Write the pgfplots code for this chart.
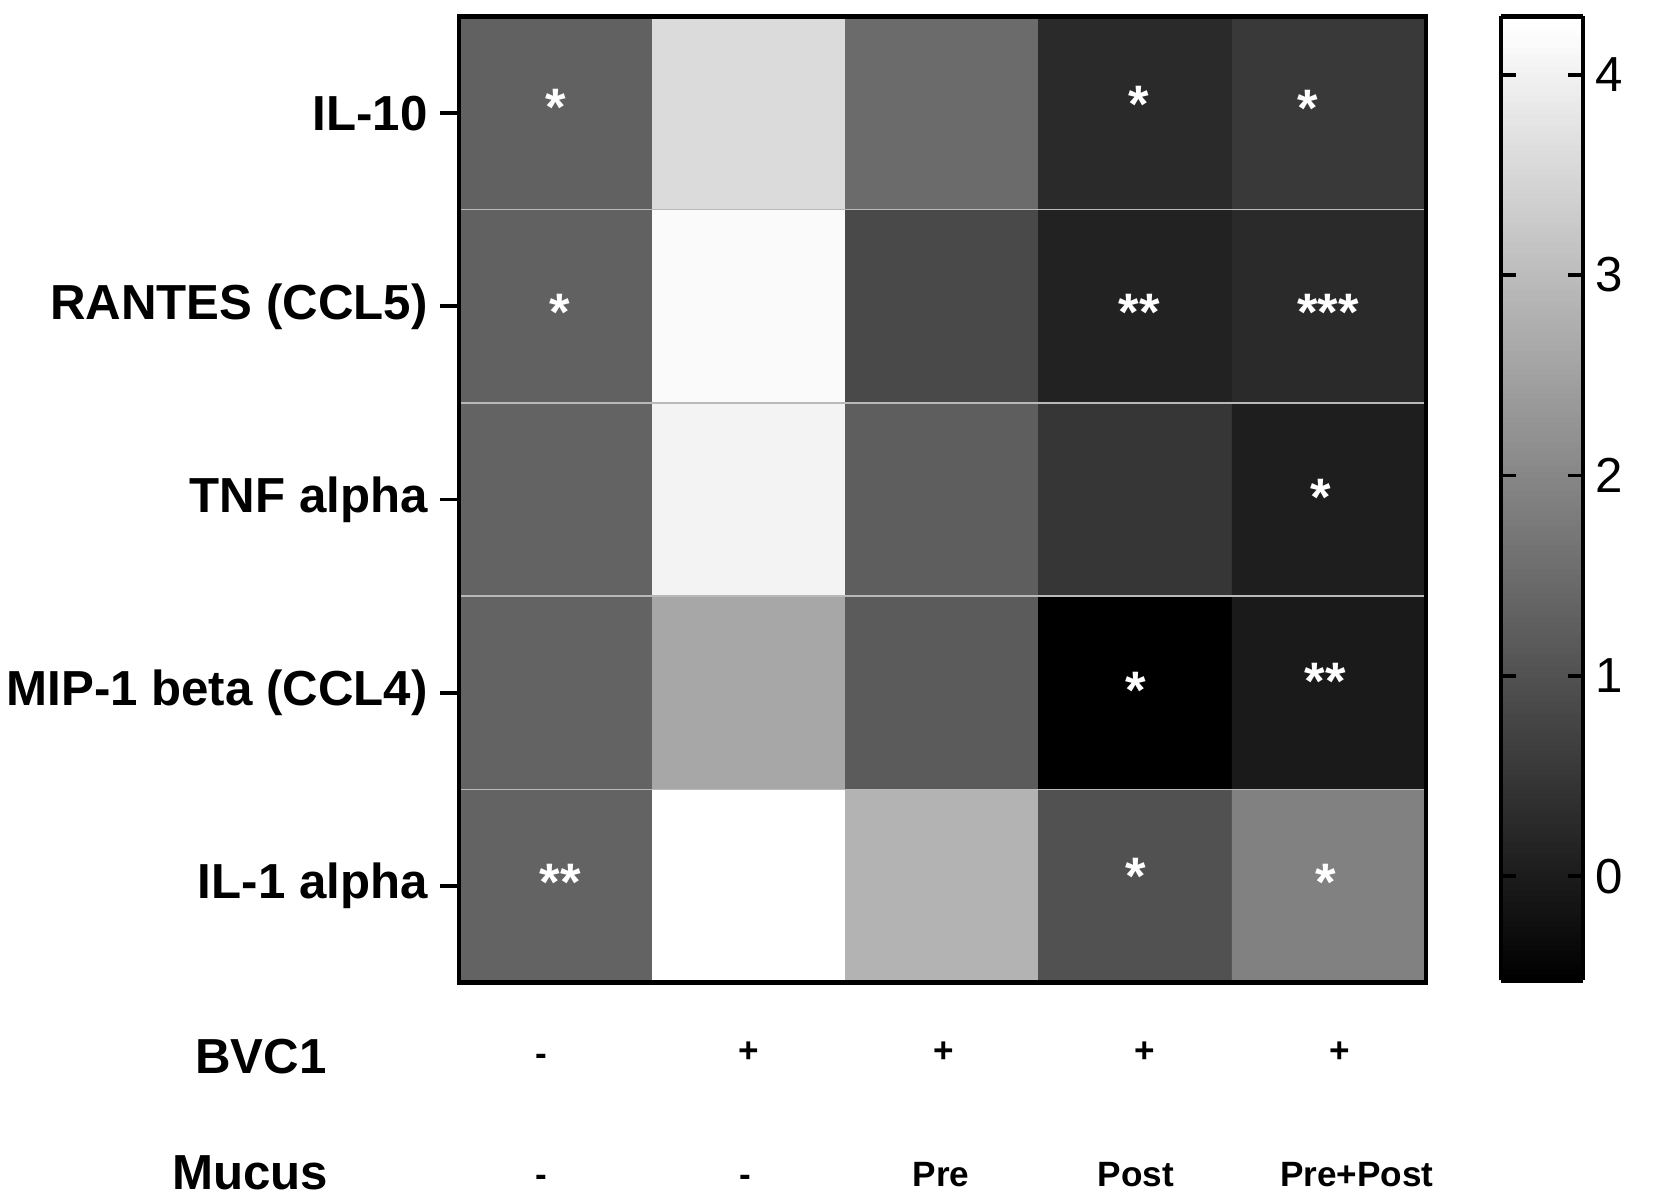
\documentclass[border=0pt]{standalone}
\usepackage{pgfplots}
\pgfplotsset{compat=1.18}
\usepackage{fontspec}
\setmainfont{Liberation Sans}
\begin{document}
\begin{tikzpicture}[
 sig/.style={anchor=base, yshift=-7.1pt, text=white, font=\fontsize{15}{17}\selectfont\bfseries, inner sep=0pt},
 ent/.style={anchor=base, font=\fontsize{10}{12}\selectfont\bfseries, inner sep=0pt},
 lab/.style={font=\fontsize{14}{16}\selectfont\bfseries, inner sep=0pt},
]
\useasboundingbox (-4.59cm,-2.165cm) rectangle (11.94cm,9.825cm);
\begin{axis}[
 at={(0,0)}, anchor=south west,
 width=9.67cm, height=9.66cm, scale only axis,
 xmin=-0.5, xmax=4.5, ymin=-0.5, ymax=4.5,
 xtick=\empty,
 ytick={0,1,2,3,4},
 yticklabels={IL-1 alpha, MIP-1 beta (CCL4), TNF alpha, RANTES (CCL5), IL-10},
 yticklabel style={font=\fontsize{14}{16}\selectfont\bfseries},
 ytick pos=left, tick align=outside,
 major tick length=0.19cm,
 tick style={line width=1.1pt, black},
 axis line style={line width=1.2pt},
 minor xtick={0.5,1.5,2.5,3.5}, minor ytick={0.5,1.5,2.5,3.5},
 minor tick length=0pt,
 minor grid style={gray!55, line width=0.35pt},
 xminorgrids, yminorgrids,
 axis on top,
 clip=false,
 colormap={bw}{rgb255(0cm)=(0,0,0); rgb255(1cm)=(255,255,255)},
 point meta min=-0.52, point meta max=4.29,
 colorbar sampled,
 colorbar shift/.style={xshift=0.75cm},
 colorbar style={
   at={(parent axis.north east)}, anchor=north west,
   width=0.82cm, height=9.64cm,
   samples=160,
   ytick={0,1,2,3,4},
   minor ytick={}, yminorgrids=false, xminorgrids=false,
   yticklabel pos=right, ytick pos=both,
   tick align=inside,
   major tick length=0.15cm,
   tick style={line width=1.1pt, black},
   axis line style={line width=1.3pt},
   axis on top,
   yticklabel style={font=\fontsize{14}{16}\selectfont},
   /pgf/number format/assume math mode=true,
 },
]
\addplot[matrix plot*, mesh/cols=5, point meta=explicit] table[meta=c] {
x y c
0 0 1.33
1 0 4.29
2 0 2.84
3 0 0.99
4 0 1.89
0 1 1.33
1 1 2.61
2 1 1.18
3 1 -0.52
4 1 -0.03
0 2 1.33
1 2 4.04
2 2 1.25
3 2 0.50
4 2 0.05
0 3 1.29
1 3 4.16
2 3 0.84
3 3 0.12
4 3 0.27
0 4 1.29
1 4 3.59
2 4 1.48
3 4 0.27
4 4 0.54
};
% significance stars
\node[sig] at (axis cs:0.00,4.064) {*};
\node[sig] at (axis cs:3.017,4.08) {*};
\node[sig] at (axis cs:3.89,4.06) {*};
\node[sig] at (axis cs:0.023,3.006) {*};
\node[sig] at (axis cs:3.017,3.006) {**};
\node[sig] at (axis cs:3.993,3.006) {***};
\node[sig] at (axis cs:3.955,2.046) {*};
\node[sig] at (axis cs:3.0,1.048) {*};
\node[sig] at (axis cs:3.98,1.092) {**};
\node[sig] at (axis cs:0.023,0.056) {**};
\node[sig] at (axis cs:3.0,0.083) {*};
\node[sig] at (axis cs:3.98,0.056) {*};
% condition rows
\node[lab] at (axis cs:-1.524,-0.886) {BVC1};
\node[lab] at (axis cs:-1.581,-1.486) {Mucus};
\node[ent] at (axis cs:-0.076,-0.93) {-};
\node[ent] at (axis cs:0.997,-0.915) {+};
\node[ent] at (axis cs:2.005,-0.915) {+};
\node[ent] at (axis cs:3.047,-0.915) {+};
\node[ent] at (axis cs:4.055,-0.915) {+};
\node[ent] at (axis cs:-0.076,-1.558) {-};
\node[ent] at (axis cs:0.979,-1.558) {-};
\node[ent] at (axis cs:1.992,-1.558) {Pre};
\node[ent] at (axis cs:3.0,-1.558) {Post};
\node[ent] at (axis cs:4.143,-1.558) {Pre+Post};
\end{axis}
\end{tikzpicture}
\end{document}
